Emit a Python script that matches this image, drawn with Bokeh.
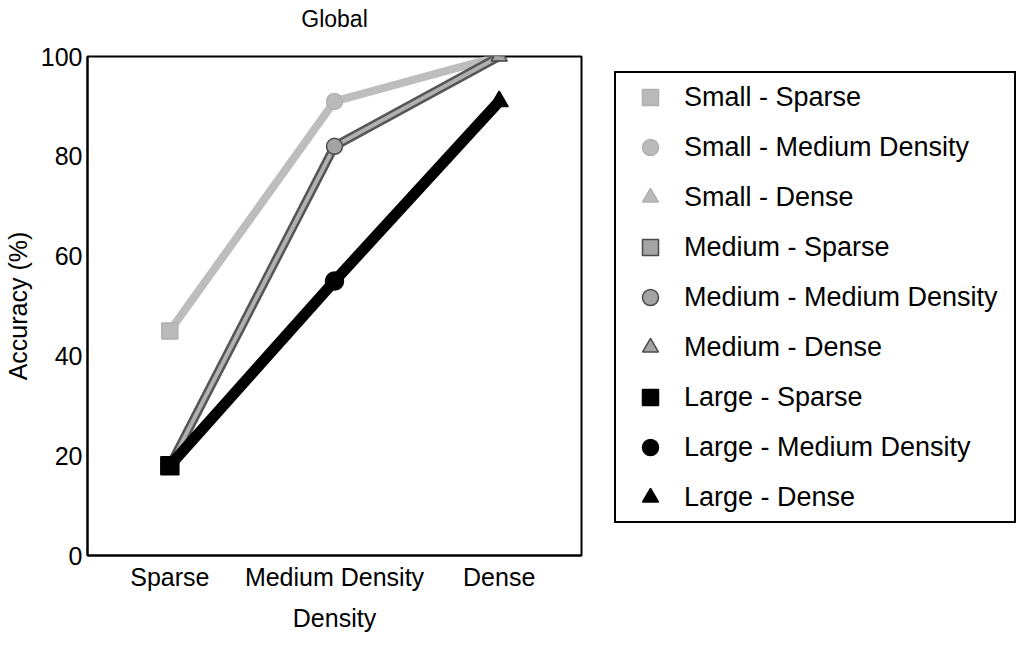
from bokeh.plotting import figure
from bokeh.models import FactorRange, Range1d, FixedTicker, Legend, LegendItem, Title
from bokeh.embed import file_html
from bokeh.resources import INLINE

# ---- data ----
categories = ["Sparse", "Medium Density", "Dense"]
series_names = ["Small", "Medium", "Large"]
small = [45, 91, 100]
medium = [18, 82, 100]
large = [18, 55, 91]
y_ticks = [0, 20, 40, 60, 80, 100]
marker_types = ["square", "circle", "triangle"]

FONT = "Liberation Sans"

p = figure(frame_width=494, frame_height=499,
           x_range=FactorRange(*categories), y_range=Range1d(0, 100),
           output_backend="svg", toolbar_location=None,
           min_border_left=82, min_border_right=0,
           min_border_top=56, min_border_bottom=82)

# real title outermost, a blank spacer title between it and the frame
p.title = Title(text="Global", align="center", text_font_size="23px",
                text_font=FONT, text_font_style="normal",
                text_color="black", standoff=2)
p.add_layout(Title(text=" ", text_font_size="1px", standoff=21), "above")

p.xgrid.visible = False
p.ygrid.visible = False
p.outline_line_color = "black"
p.outline_line_width = 2
p.outline_line_alpha = 1.0
p.background_fill_color = "white"
p.border_fill_color = "white"

for ax in (p.xaxis, p.yaxis):
    ax.axis_line_width = 2
    ax.axis_line_color = "black"
    ax.major_tick_out = 0
    ax.major_tick_in = 0
    ax.minor_tick_out = 0
    ax.minor_tick_in = 0
    ax.major_label_text_font = FONT
    ax.major_label_text_font_size = "25px"
    ax.major_label_text_color = "black"
    ax.axis_label_text_font = FONT
    ax.axis_label_text_font_size = "25px"
    ax.axis_label_text_font_style = "normal"
    ax.axis_label_text_color = "black"

p.yaxis.ticker = FixedTicker(ticks=y_ticks)
p.yaxis.axis_label = "Accuracy (%)"
p.yaxis.major_label_standoff = 5
p.yaxis.axis_label_standoff = 6
p.xaxis.axis_label = "Density"
p.xaxis.major_label_standoff = 7
p.xaxis.axis_label_standoff = 10

styles = {
    "Small": dict(line=[("#bdbdbd", 8)], fill="#bababa", mline="#b0b0b0", size=16),
    "Medium": dict(line=[("#555555", 9), ("#b0b0b0", 4)], fill="#a4a4a4", mline="#4a4a4a", size=16),
    "Large": dict(line=[("black", 11)], fill="black", mline="black", size=18),
}

items = []
for name, vals in zip(series_names, [small, medium, large]):
    st = styles[name]
    for col, w in st["line"]:
        p.line(x=categories, y=vals, line_color=col, line_width=w, line_join="round")
    for i, cat in enumerate(categories):
        r = p.scatter(x=[cat], y=[vals[i]], marker=marker_types[i], size=st["size"],
                      fill_color=st["fill"], line_color=st["mline"], line_width=1.5)
        items.append(LegendItem(label=f"{name} - {cat}", renderers=[r]))

legend = Legend(items=items, location=(33, 32),
                label_text_font=FONT, label_text_font_size="27px",
                label_text_color="black",
                glyph_width=60, glyph_height=40, label_height=40,
                label_width=326, label_standoff=4,
                spacing=10, padding=4, margin=0,
                border_line_color="black", border_line_width=2,
                border_line_alpha=1.0,
                background_fill_color="white", background_fill_alpha=1.0)
p.add_layout(legend, "right")

open("out.html", "w").write(file_html(p, INLINE))
